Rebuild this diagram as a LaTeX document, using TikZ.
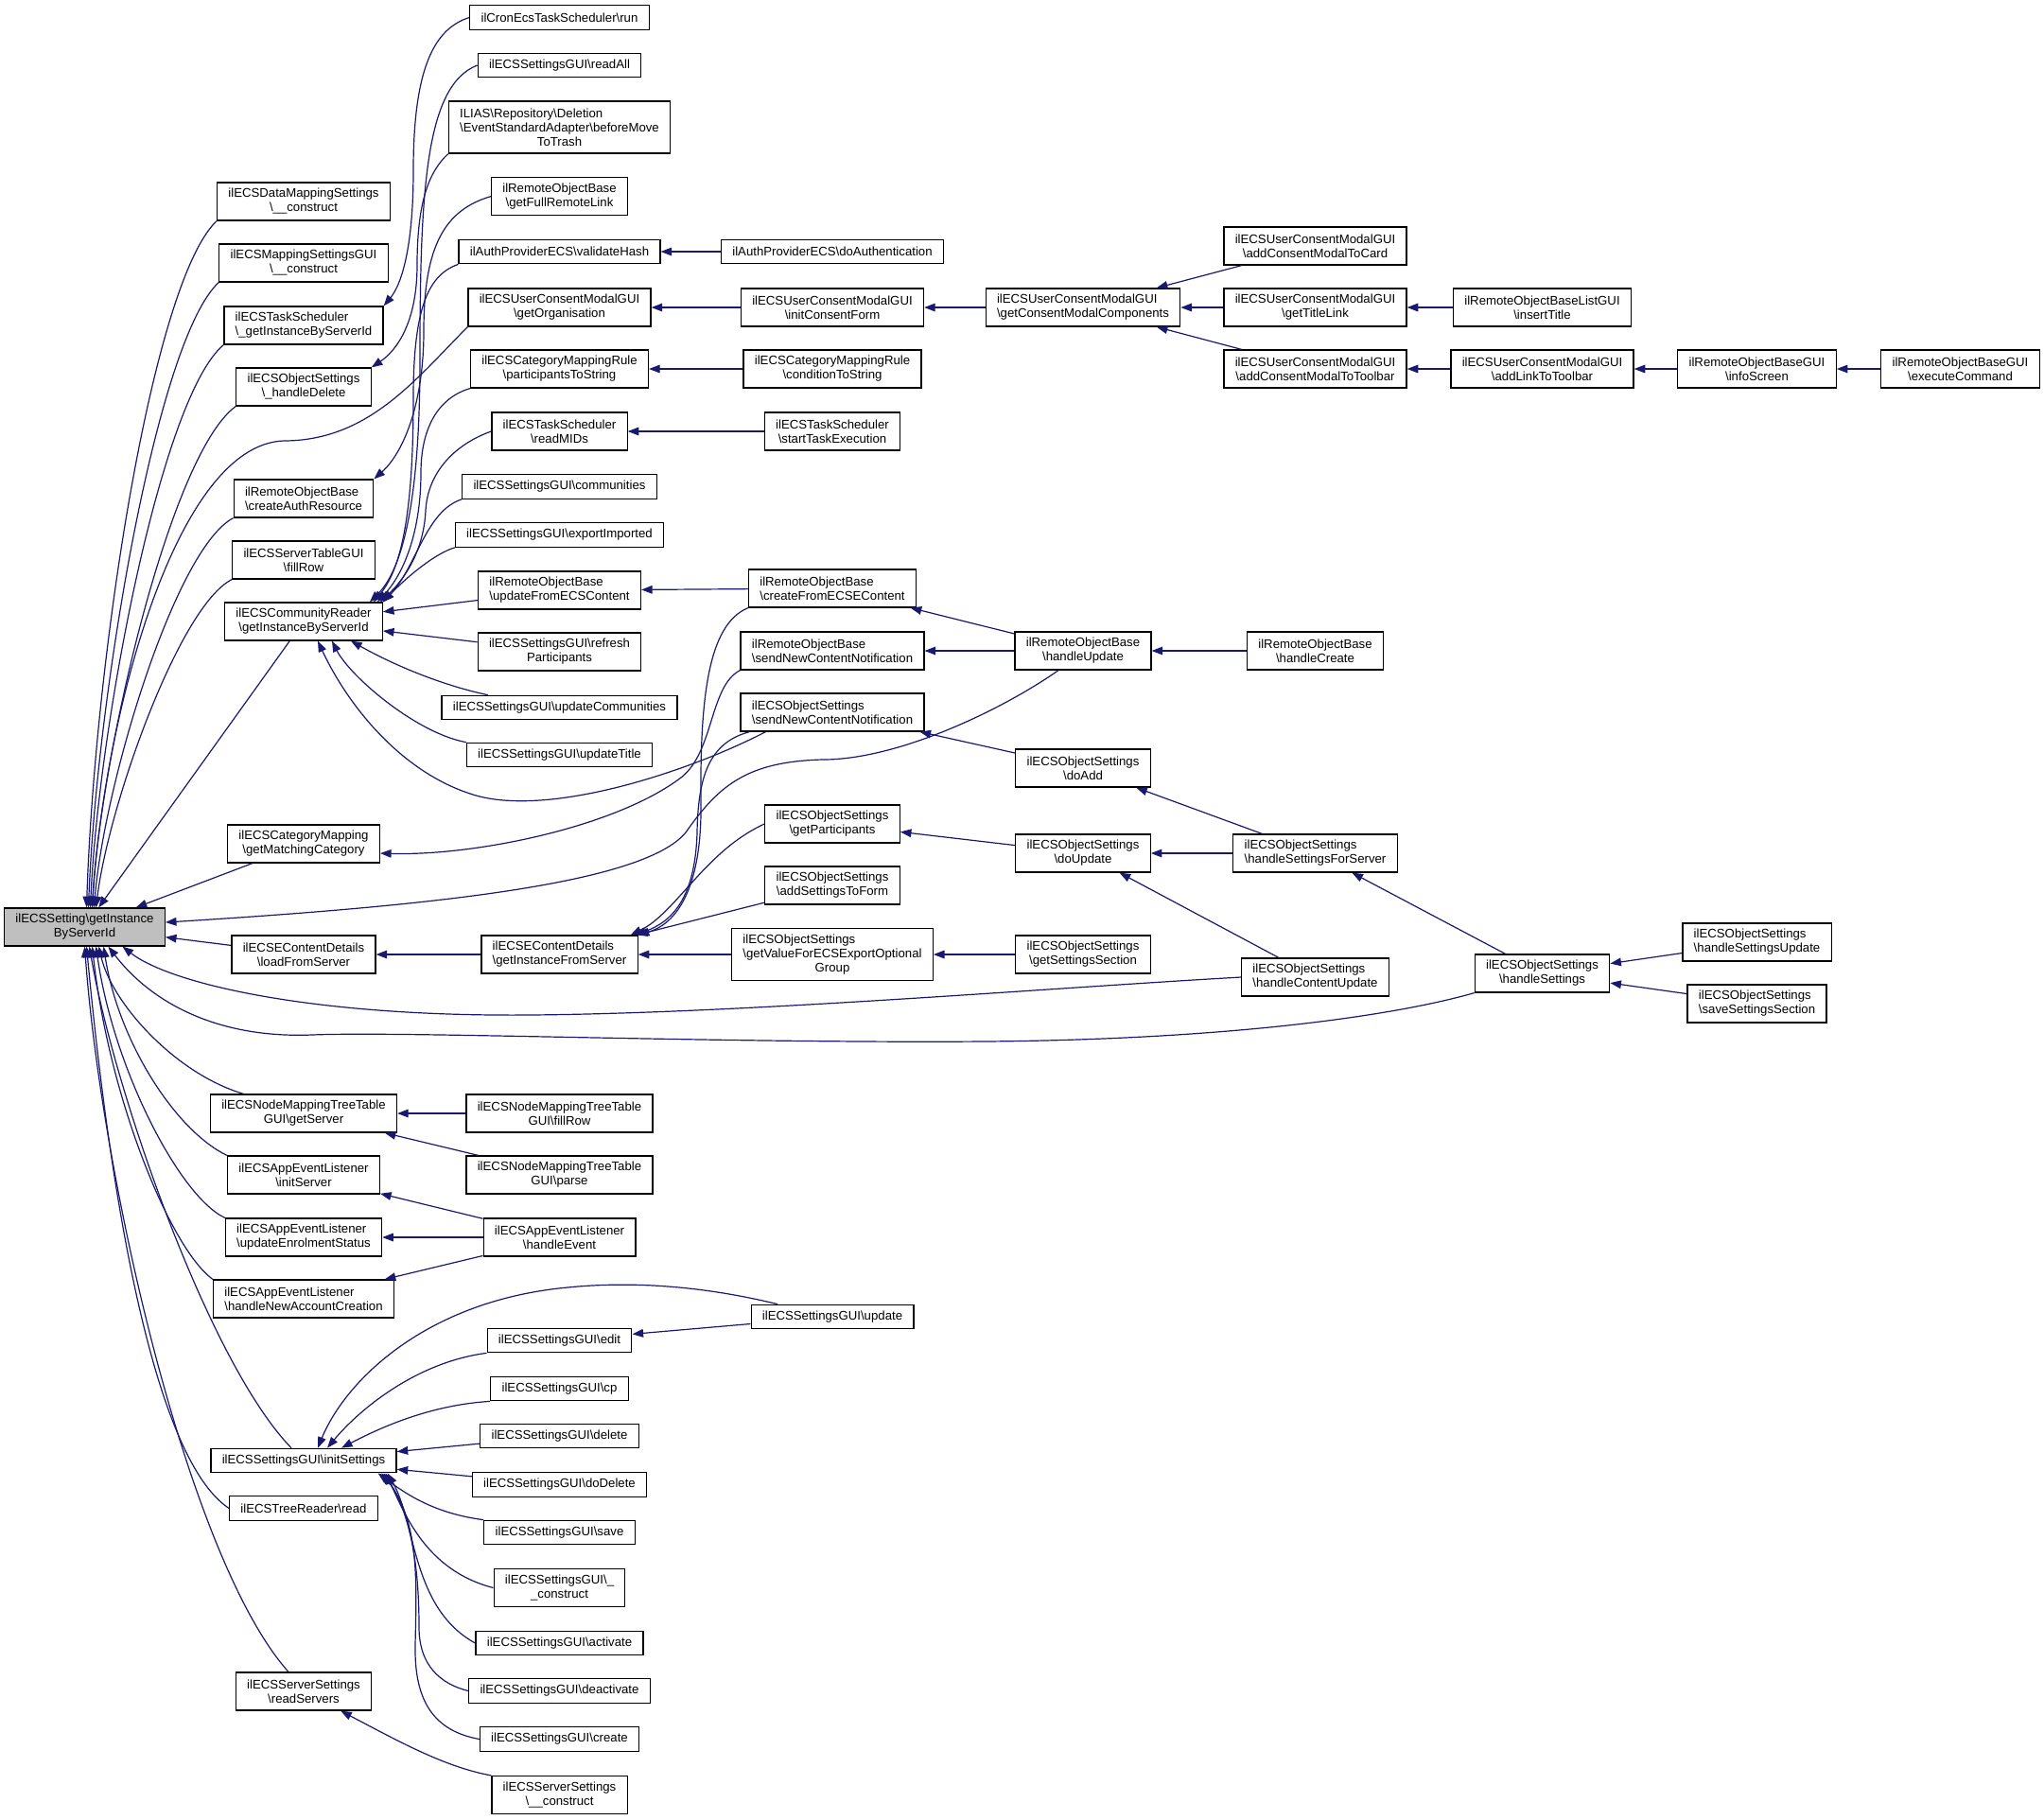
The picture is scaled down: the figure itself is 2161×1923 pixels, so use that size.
\documentclass[tikz,border=0pt]{standalone}
\usepackage{fontspec}
\setmainfont{Liberation Sans}
\usetikzlibrary{arrows.meta}

\definecolor{edgeblue}{RGB}{25,25,112}
\definecolor{mgray}{RGB}{191,191,191}
\newcommand{\bsl}{\textbackslash}

\begin{document}
\begin{tikzpicture}[x=0.5pt, y=-0.5pt, >={Triangle[length=5.8pt,width=4.3pt]}]

    \tikzstyle{fn} = [rectangle, draw=black, fill=white, line width=0.6pt, inner xsep=5.9pt, inner ysep=0pt, font=\fontsize{6.6}{7.5}\selectfont]
    \tikzstyle{fnc} = [fn, align=center]
    \tikzstyle{fnl} = [fn, align=left]
    \tikzstyle{one} = [minimum height=12.75pt]
    \tikzstyle{two} = [minimum height=20pt]
    \tikzstyle{three} = [minimum height=27.5pt]
    \tikzstyle{call} = [color=edgeblue, line width=0.6pt, <-]

    \path[fill=white] (0,0) rectangle (2161,1923);
    \useasboundingbox (0,0) rectangle (2161,1923);

    \node (M)      [fnc, two, fill=mgray]   at (89.5,980)     {ilECSSetting\bsl getInstance\\ByServerId};

    \node (dms)    [fnc, two]   at (321,213)      {ilECSDataMappingSettings\\\bsl\_\_construct};
    \node (msg)    [fnc, two]   at (321,278)      {ilECSMappingSettingsGUI\\\bsl\_\_construct};
    \node (tsgi)   [fnl, two]   at (321,344)      {ilECSTaskScheduler\\\bsl\_getInstanceByServerId};
    \node (oshd)   [fnc, two]   at (321,409)      {ilECSObjectSettings\\\bsl\_handleDelete};
    \node (cauth)  [fnl, two]   at (321,527)      {ilRemoteObjectBase\\\bsl createAuthResource};
    \node (stfr)   [fnc, two]   at (321,592)      {ilECSServerTableGUI\\\bsl fillRow};
    \node (crgi)   [fnc, two]   at (321,657)      {ilECSCommunityReader\\\bsl getInstanceByServerId};
    \node (cmgm)   [fnc, two]   at (321,892)      {ilECSCategoryMapping\\\bsl getMatchingCategory};
    \node (ecld)   [fnc, two]   at (321,1009)     {ilECSEContentDetails\\\bsl loadFromServer};
    \node (nmgs)   [fnc, two]   at (321,1177)     {ilECSNodeMappingTreeTable\\GUI\bsl getServer};
    \node (aeis)   [fnc, two]   at (321,1242)     {ilECSAppEventListener\\\bsl initServer};
    \node (aeue)   [fnl, two]   at (321,1308)     {ilECSAppEventListener\\\bsl updateEnrolmentStatus};
    \node (aena)   [fnl, two]   at (321,1373)     {ilECSAppEventListener\\\bsl handleNewAccountCreation};
    \node (sgis)   [fn, one]    at (321,1544)     {ilECSSettingsGUI\bsl initSettings};
    \node (trr)    [fn, one]    at (321,1594.5)   {ilECSTreeReader\bsl read};
    \node (ssrs)   [fnc, two]   at (321,1788)     {ilECSServerSettings\\\bsl readServers};

    \node (cron)    [fn, one]    at (591.5,18.5)   {ilCronEcsTaskScheduler\bsl run};
    \node (readall) [fn, one]    at (591.5,69)     {ilECSSettingsGUI\bsl readAll};
    \node (ilias)   [fnl, three] at (591.5,134.5)  {ILIAS\bsl Repository\bsl Deletion\\\bsl EventStandardAdapter\bsl beforeMove\\\hfil ToTrash};
    \node (gfrl)    [fnc, two]   at (591.5,207.6)  {ilRemoteObjectBase\\\bsl getFullRemoteLink};
    \node (vhash)   [fn, one]    at (591.5,266)    {ilAuthProviderECS\bsl validateHash};
    \node (gorg)    [fnc, two]   at (591.5,325)    {ilECSUserConsentModalGUI\\\bsl getOrganisation};
    \node (pts)     [fnc, two]   at (591.5,390)    {ilECSCategoryMappingRule\\\bsl participantsToString};
    \node (rmids)   [fnc, two]   at (591.5,456)    {ilECSTaskScheduler\\\bsl readMIDs};
    \node (comm)    [fn, one]    at (591.5,514.5)  {ilECSSettingsGUI\bsl communities};
    \node (expi)    [fn, one]    at (591.5,565.5)  {ilECSSettingsGUI\bsl exportImported};
    \node (ufec)    [fnl, two]   at (591.5,624)    {ilRemoteObjectBase\\\bsl updateFromECSContent};
    \node (refp)    [fnc, two]   at (591.5,689)    {ilECSSettingsGUI\bsl refresh\\Participants};
    \node (updc)    [fn, one]    at (591.5,748)    {ilECSSettingsGUI\bsl updateCommunities};
    \node (updt)    [fn, one]    at (591.5,798)    {ilECSSettingsGUI\bsl updateTitle};
    \node (gifs)    [fnl, two]   at (591.5,1009)   {ilECSEContentDetails\\\bsl getInstanceFromServer};
    \node (nmfr)    [fnc, two]   at (591.5,1177)   {ilECSNodeMappingTreeTable\\GUI\bsl fillRow};
    \node (nmpa)    [fnc, two]   at (591.5,1242)   {ilECSNodeMappingTreeTable\\GUI\bsl parse};
    \node (aehe)    [fnc, two]   at (591.5,1308)   {ilECSAppEventListener\\\bsl handleEvent};
    \node (edit)    [fn, one]    at (591.5,1417)   {ilECSSettingsGUI\bsl edit};
    \node (cp)      [fn, one]    at (591.5,1468)   {ilECSSettingsGUI\bsl cp};
    \node (del)     [fn, one]    at (591.5,1518)   {ilECSSettingsGUI\bsl delete};
    \node (dodel)   [fn, one]    at (591.5,1569.5) {ilECSSettingsGUI\bsl doDelete};
    \node (save)    [fn, one]    at (591.5,1620)   {ilECSSettingsGUI\bsl save};
    \node (sgcon)   [fnc, two]   at (591.5,1678.5) {ilECSSettingsGUI\bsl\_\\\_construct};
    \node (act)     [fn, one]    at (591.5,1737)   {ilECSSettingsGUI\bsl activate};
    \node (deact)   [fn, one]    at (591.5,1787.5) {ilECSSettingsGUI\bsl deactivate};
    \node (create)  [fn, one]    at (591.5,1838.5) {ilECSSettingsGUI\bsl create};
    \node (sscon)   [fnc, two]   at (591.5,1897.5) {ilECSServerSettings\\\bsl\_\_construct};

    \node (doauth) [fn, one]    at (880,266)      {ilAuthProviderECS\bsl doAuthentication};
    \node (icf)    [fnc, two]   at (880,325)      {ilECSUserConsentModalGUI\\\bsl initConsentForm};
    \node (cts)    [fnc, two]   at (880,390)      {ilECSCategoryMappingRule\\\bsl conditionToString};
    \node (ste)    [fnc, two]   at (880,456)      {ilECSTaskScheduler\\\bsl startTaskExecution};
    \node (cfec)   [fnl, two]   at (880,622)      {ilRemoteObjectBase\\\bsl createFromECSEContent};
    \node (rsnc)   [fnl, two]   at (880,688)      {ilRemoteObjectBase\\\bsl sendNewContentNotification};
    \node (osnc)   [fnl, two]   at (880,753)      {ilECSObjectSettings\\\bsl sendNewContentNotification};
    \node (gpart)  [fnc, two]   at (880,871)      {ilECSObjectSettings\\\bsl getParticipants};
    \node (astf)   [fnc, two]   at (880,936)      {ilECSObjectSettings\\\bsl addSettingsToForm};
    \node (gvfe)   [fnl, three] at (880,1009)     {ilECSObjectSettings\\\bsl getValueForECSExportOptional\\\hfil Group};
    \node (sgup)   [fn, one]    at (880,1392)     {ilECSSettingsGUI\bsl update};

    \node (gcmc)   [fnl, two]   at (1145,325)     {ilECSUserConsentModalGUI\\\bsl getConsentModalComponents};
    \node (hupd)   [fnc, two]   at (1145,688)     {ilRemoteObjectBase\\\bsl handleUpdate};
    \node (doadd)  [fnc, two]   at (1145,812)     {ilECSObjectSettings\\\bsl doAdd};
    \node (doupd)  [fnc, two]   at (1145,902)     {ilECSObjectSettings\\\bsl doUpdate};
    \node (gss)    [fnc, two]   at (1145,1009)    {ilECSObjectSettings\\\bsl getSettingsSection};

    \node (amtc)   [fnc, two]   at (1390.5,260)   {ilECSUserConsentModalGUI\\\bsl addConsentModalToCard};
    \node (gtl)    [fnc, two]   at (1390.5,325)   {ilECSUserConsentModalGUI\\\bsl getTitleLink};
    \node (amtt)   [fnc, two]   at (1390.5,390)   {ilECSUserConsentModalGUI\\\bsl addConsentModalToToolbar};
    \node (hcre)   [fnc, two]   at (1390.5,688)   {ilRemoteObjectBase\\\bsl handleCreate};
    \node (hsfs)   [fnl, two]   at (1390.5,902)   {ilECSObjectSettings\\\bsl handleSettingsForServer};
    \node (hcu)    [fnl, two]   at (1390.5,1033)  {ilECSObjectSettings\\\bsl handleContentUpdate};

    \node (instt)  [fnc, two]   at (1630.5,325)   {ilRemoteObjectBaseListGUI\\\bsl insertTitle};
    \node (altt)   [fnc, two]   at (1630.5,390)   {ilECSUserConsentModalGUI\\\bsl addLinkToToolbar};
    \node (hset)   [fnc, two]   at (1630.5,1029)  {ilECSObjectSettings\\\bsl handleSettings};

    \node (infos)  [fnc, two]   at (1857.5,390)   {ilRemoteObjectBaseGUI\\\bsl infoScreen};
    \node (hsu)    [fnl, two]   at (1857.5,996)   {ilECSObjectSettings\\\bsl handleSettingsUpdate};
    \node (sss)    [fnl, two]   at (1857.5,1061)  {ilECSObjectSettings\\\bsl saveSettingsSection};

    \node (excmd)  [fnc, two]   at (2072.5,390)   {ilRemoteObjectBaseGUI\\\bsl executeCommand};

    % straight calls
    \path[call]  (M)      edge  (crgi);
    \path[call]  (M)      edge  (cmgm);
    \path[call]  (M)      edge  (ecld);
    \path[call]  (crgi)   edge  (ufec);
    \path[call]  (crgi)   edge  (refp);
    \path[call]  (vhash)  edge  (doauth);
    \path[call]  (gorg)   edge  (icf);
    \path[call]  (icf)    edge  (gcmc);
    \path[call]  (gcmc)   edge  (amtc);
    \path[call]  (gcmc)   edge  (gtl);
    \path[call]  (gcmc)   edge  (amtt);
    \path[call]  (gtl)    edge  (instt);
    \path[call]  (amtt)   edge  (altt);
    \path[call]  (altt)   edge  (infos);
    \path[call]  (infos)  edge  (excmd);
    \path[call]  (pts)    edge  (cts);
    \path[call]  (rmids)  edge  (ste);
    \path[call]  (ufec)   edge  (cfec);
    \path[call]  (cfec)   edge  (hupd);
    \path[call]  (rsnc)   edge  (hupd);
    \path[call]  (hupd)   edge  (hcre);
    \path[call]  (osnc)   edge  (doadd);
    \path[call]  (doadd)  edge  (hsfs);
    \path[call]  (doupd)  edge  (hsfs);
    \path[call]  (doupd)  edge  (hcu);
    \path[call]  (gpart)  edge  (doupd);
    \path[call]  (gvfe)   edge  (gss);
    \path[call]  (hsfs)   edge  (hset);
    \path[call]  (hset)   edge  (hsu);
    \path[call]  (hset)   edge  (sss);
    \path[call]  (gifs)   edge  (astf);
    \path[call]  (gifs)   edge  (gvfe);
    \path[call]  (ecld)   edge  (gifs);
    \path[call]  (nmgs)   edge  (nmfr);
    \path[call]  (nmgs)   edge  (nmpa);
    \path[call]  (aeis)   edge  (aehe);
    \path[call]  (aeue)   edge  (aehe);
    \path[call]  (aena)   edge  (aehe);
    \path[call]  (edit)   edge  (sgup);
    \path[call]  (sgis)   edge  (del);
    \path[call]  (sgis)   edge  (dodel);

    % curved calls into the main node
    \draw[call] ([shift={(2,0)}]M.north) .. controls (100,700) and (160,300) .. (dms.south west);
    \draw[call] ([shift={(4,0)}]M.north) .. controls (102,740) and (165,360) .. (msg.south west);
    \draw[call] ([shift={(6,0)}]M.north) .. controls (104,770) and (170,420) .. (tsgi.south west);
    \draw[call] ([shift={(8,0)}]M.north) .. controls (106,800) and (180,480) .. (oshd.south west);
    \draw[call] ([shift={(10,0)}]M.north) .. controls (110,830) and (185,580) .. (cauth.south west);
    \draw[call] ([shift={(12,0)}]M.north) .. controls (115,850) and (190,640) .. (stfr.south west);
    \draw[call] ([shift={(8,0)}]M.north) .. controls (110,760) and (185,470) .. (300,466) .. controls (390,466) and (440,400) .. (gorg.south west);
    \draw[call] ([shift={(0,-5)}]M.east) .. controls (450,958) and (680,935) .. (725,880) .. controls (760,830) and (790,805) .. (870,803) .. controls (950,803) and (1060,750) .. ([shift={(-26,0)}]hupd.south);
    \draw[call] ([shift={(40,0)}]M.south) .. controls (180,1040) and (330,1075) .. (560,1073) .. controls (790,1071) and (1100,1045) .. (hcu.west);
    \draw[call] ([shift={(25,0)}]M.south) .. controls (160,1060) and (230,1098) .. (330,1094) .. controls (430,1090) and (760,1103) .. (1040,1101) .. controls (1292,1099) and (1470,1075) .. (hset.south west);
    \draw[call] ([shift={(15,0)}]M.south) .. controls (118,1060) and (185,1135) .. (nmgs.162);
    \draw[call] ([shift={(20,0)}]M.south) .. controls (125,1100) and (185,1195) .. (aeis.north west);
    \draw[call] ([shift={(12,0)}]M.south) .. controls (120,1130) and (190,1265) .. (aeue.north west);
    \draw[call] ([shift={(8,0)}]M.south) .. controls (115,1160) and (180,1320) .. (aena.north west);
    \draw[call] ([shift={(5,0)}]M.south) .. controls (120,1150) and (220,1440) .. ([shift={(-13,0)}]sgis.north);
    \draw[call] ([shift={(2,0)}]M.south) .. controls (115,1250) and (160,1540) .. (trr.west);
    \draw[call] (M.south) .. controls (108,1250) and (200,1650) .. ([shift={(-16,0)}]ssrs.north);

    % curved calls into the second column
    \draw[call] (tsgi.north east) .. controls (425,300) and (437,260) .. (437,180) .. controls (437,70) and (460,30) .. (cron.west);
    \draw[call] (oshd.north east) .. controls (420,370) and (441,340) .. (441,280) .. controls (441,210) and (455,180) .. (ilias.south west);
    \draw[call] (cauth.north east) .. controls (425,480) and (448,430) .. (448,350) .. controls (448,260) and (470,222) .. (gfrl.west);
    \draw[call] ([shift={(-14,0)}]crgi.north east) .. controls (428,600) and (444,520) .. (444,380) .. controls (444,200) and (450,90) .. (readall.west);
    \draw[call] ([shift={(-10,0)}]crgi.north east) .. controls (425,600) and (437,540) .. (437,420) .. controls (437,320) and (455,290) .. (vhash.south west);
    \draw[call] ([shift={(-6,0)}]crgi.north east) .. controls (428,605) and (445,560) .. (445,500) .. controls (445,450) and (465,420) .. (pts.south west);
    \draw[call] ([shift={(-3,0)}]crgi.north east) .. controls (430,610) and (448,580) .. (450,540) .. controls (452,500) and (480,470) .. (rmids.west);
    \draw[call] (crgi.north east) .. controls (440,600) and (450,540) .. (comm.south west);
    \draw[call] (crgi.north east) .. controls (430,610) and (460,585) .. (expi.south west);
    \draw[call] ([shift={(50,0)}]crgi.south) .. controls (420,705) and (470,725) .. (updc.170);
    \draw[call] ([shift={(30,0)}]crgi.south) .. controls (370,715) and (440,775) .. (updt.north west);
    \draw[call] ([shift={(15,0)}]crgi.south) .. controls (365,740) and (420,815) .. (500,840) .. controls (580,865) and (730,815) .. ([shift={(27,0)}]osnc.south west);
    \draw[call] ([shift={(0,10)}]cmgm.east) .. controls (500,905) and (650,875) .. (720,822) .. controls (755,795) and (750,725) .. (rsnc.south west);
    \draw[call] (gifs.north east) .. controls (720,975) and (742,930) .. (741,850) .. controls (740,740) and (748,660) .. (cfec.south west);
    \draw[call] ([shift={(-4,0)}]gifs.north east) .. controls (710,975) and (735,950) .. (737,880) .. controls (738,820) and (750,785) .. ([shift={(10,0)}]osnc.south west);
    \draw[call] ([shift={(-8,0)}]gifs.north east) .. controls (715,965) and (745,900) .. (gpart.west);
    \draw[call] ([shift={(15,0)}]sgis.north) .. controls (365,1460) and (450,1375) .. (600,1361) .. controls (690,1352) and (770,1366) .. (sgup.167);
    \draw[call] ([shift={(25,0)}]sgis.north) .. controls (380,1490) and (440,1440) .. (edit.south west);
    \draw[call] ([shift={(40,0)}]sgis.north) .. controls (410,1505) and (460,1485) .. (cp.south west);
    \draw[call] ([shift={(-20,0)}]sgis.south east) .. controls (430,1580) and (460,1600) .. (save.north west);
    \draw[call] ([shift={(-12,0)}]sgis.south east) .. controls (428,1600) and (450,1660) .. (sgcon.west);
    \draw[call] ([shift={(-10,0)}]sgis.south east) .. controls (440,1610) and (435,1700) .. (act.west);
    \draw[call] ([shift={(-14,0)}]sgis.south east) .. controls (440,1610) and (443,1680) .. (443,1720) .. controls (443,1760) and (465,1780) .. (deact.west);
    \draw[call] ([shift={(-16,0)}]sgis.south east) .. controls (445,1610) and (440,1680) .. (439,1740) .. controls (438,1800) and (460,1830) .. (create.west);
    \draw[call] (ssrs) .. controls (420,1840) and (470,1868) .. (sscon.north west);
\end{tikzpicture}
\end{document}
